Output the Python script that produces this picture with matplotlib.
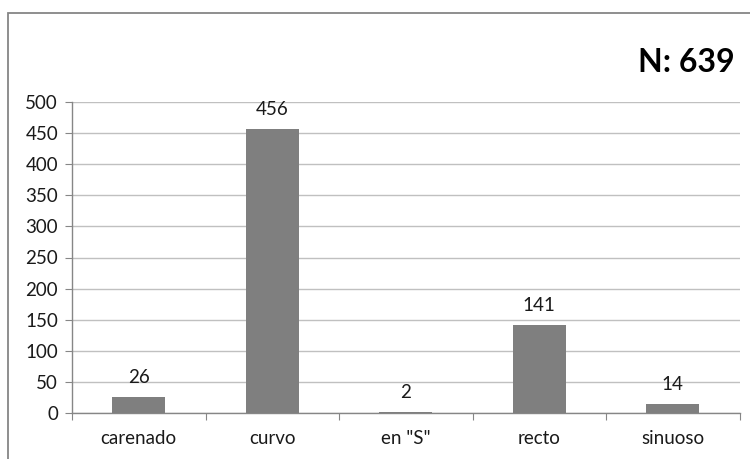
import matplotlib
matplotlib.use("Agg")
import matplotlib.pyplot as plt
from matplotlib.patches import Rectangle

categories = ["carenado", "curvo", "en \"S\"", "recto", "sinuoso"]
counts = [26, 456, 2, 141, 14]
y_ticks = [0, 50, 100, 150, 200, 250, 300, 350, 400, 450, 500]
total_label = "N: 639"

plt.rcParams["font.family"] = ["Lato", "DejaVu Sans"]

W, H = 750, 459
fig = plt.figure(figsize=(W / 100, H / 100), dpi=100)
fig.patch.set_facecolor("white")

# outer chart frame (continues past the right and bottom edges)
fig.add_artist(Rectangle((8 / W, -0.1), 1.2, (H - 13) / H + 0.1,
                         transform=fig.transFigure, fill=False,
                         edgecolor="#868686", linewidth=1.3))

left, right, top, bottom = 72, 739.5, 102, 413
ax = fig.add_axes([left / W, 1 - bottom / H, (right - left) / W, (bottom - top) / H])

FS = 13.5
TXT = "#1a1a1a"

x = range(len(categories))
bars = ax.bar(x, counts, width=0.4, color="#7F7F7F", zorder=3)
ax.set_xlim(-0.5, len(categories) - 0.5)
ax.set_ylim(0, 500)
ax.set_yticks(y_ticks)
ax.set_yticklabels([str(v) for v in y_ticks], fontsize=FS, color=TXT)

ax.set_xticks([i + 0.5 for i in range(-1, len(categories))], minor=False)
ax.set_xticklabels([])
ax.set_xticks(list(x), minor=True)
ax.set_xticklabels(categories, minor=True, fontsize=FS, color=TXT)
ax.tick_params(axis="x", which="major", length=5, color="#868686", direction="out")
ax.tick_params(axis="x", which="minor", length=0, pad=12)
ax.tick_params(axis="y", length=5, color="#868686", pad=5)

ax.grid(axis="y", color="#C0C0C0", linewidth=1.0, zorder=0)
for side in ("top", "right"):
    ax.spines[side].set_visible(False)
for side in ("left", "bottom"):
    ax.spines[side].set_color("#868686")
    ax.spines[side].set_linewidth(1.0)

for b, v in zip(bars, counts):
    ax.annotate(str(v), (b.get_x() + b.get_width() / 2, v), xytext=(0, 8),
                textcoords="offset points", ha="center", va="bottom",
                fontsize=FS, color=TXT)

fig.text(735 / W, 1 - 62 / H, total_label, ha="right", va="center",
         fontsize=23, fontweight="bold", color="black")

fig.savefig("out.png", dpi=100, facecolor="white")
